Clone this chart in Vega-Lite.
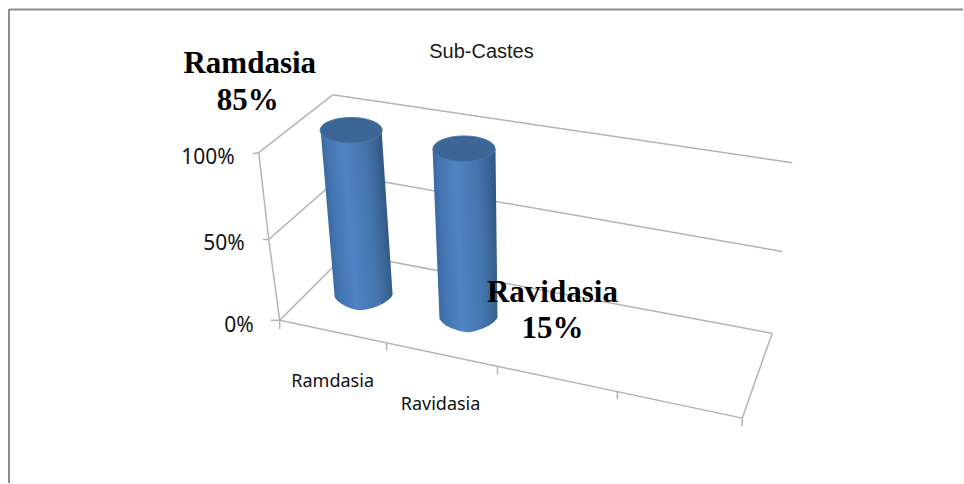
{
  "$schema": "https://vega.github.io/schema/vega-lite/v6.json",
  "width": 964,
  "height": 484,
  "padding": 0,
  "autosize": {"type": "fit", "contains": "padding"},
  "background": "white",
  "config": {"view": {"stroke": null}},
  "datasets": {
    "frame": [
      {"x": 9, "y": 9.5, "x2": 964, "y2": 9.5},
      {"x": 9, "y": 9, "x2": 9, "y2": 484}
    ],
    "wireframe": [
      {"x": 259, "y": 153, "x2": 333, "y2": 95},
      {"x": 333, "y": 95, "x2": 793, "y2": 163},
      {"x": 269, "y": 240, "x2": 343, "y2": 175},
      {"x": 343, "y": 175, "x2": 783, "y2": 252},
      {"x": 280, "y": 321, "x2": 347, "y2": 254},
      {"x": 347, "y": 254, "x2": 773, "y2": 334},
      {"x": 280, "y": 321, "x2": 743, "y2": 419},
      {"x": 743, "y": 419, "x2": 773, "y2": 334},
      {"x": 259, "y": 153, "x2": 269, "y2": 240},
      {"x": 269, "y": 240, "x2": 280, "y2": 321},
      {"x": 253, "y": 154, "x2": 259, "y2": 153},
      {"x": 263, "y": 240, "x2": 269, "y2": 240},
      {"x": 271, "y": 321, "x2": 280, "y2": 321},
      {"x": 280, "y": 321, "x2": 280, "y2": 330},
      {"x": 387, "y": 343, "x2": 387, "y2": 351},
      {"x": 498, "y": 367, "x2": 498, "y2": 375},
      {"x": 618, "y": 392, "x2": 618, "y2": 400},
      {"x": 743, "y": 419, "x2": 743, "y2": 427}
    ],
    "ramdasiaBody": [
      {"y": 131, "left": 321, "right": 382},
      {"y": 295, "left": 334.8, "right": 393},
      {"y": 298, "left": 335.2, "right": 391.5},
      {"y": 301, "left": 337.5, "right": 388},
      {"y": 304, "left": 341, "right": 384},
      {"y": 307, "left": 346, "right": 378},
      {"y": 309, "left": 351, "right": 372},
      {"y": 310.5, "left": 356, "right": 365},
      {"y": 311, "left": 360, "right": 361}
    ],
    "ravidasiaBody": [
      {"y": 149, "left": 433, "right": 496},
      {"y": 318, "left": 439.9, "right": 498},
      {"y": 320, "left": 440.2, "right": 497},
      {"y": 323, "left": 442.5, "right": 494},
      {"y": 326, "left": 446, "right": 490},
      {"y": 329, "left": 452, "right": 484},
      {"y": 331, "left": 458, "right": 478},
      {"y": 332.5, "left": 464, "right": 473},
      {"y": 333, "left": 468, "right": 470}
    ],
    "caps": [
      {"group": "Ramdasia", "x": 351.5, "y": 130.5},
      {"group": "Ravidasia", "x": 464.5, "y": 149}
    ],
    "title": [{"text": "Sub-Castes", "x": 482, "y": 58}],
    "percentTicks": [
      {"text": "100%", "x": 235, "y": 164},
      {"text": "50%", "x": 245, "y": 251},
      {"text": "0%", "x": 254, "y": 333}
    ],
    "categories": [
      {"text": "Ramdasia", "x": 333, "y": 388},
      {"text": "Ravidasia", "x": 441, "y": 411}
    ],
    "shares": [
      {"text": "Ramdasia", "x": 250, "y": 73},
      {"text": "85%", "x": 248, "y": 110},
      {"text": "Ravidasia", "x": 553, "y": 303},
      {"text": "15%", "x": 553, "y": 339}
    ]
  },
  "encoding": {
    "x": {"field": "x", "type": "quantitative", "axis": null, "scale": {"domain": [0, 964], "nice": false, "zero": false}},
    "y": {"field": "y", "type": "quantitative", "axis": null, "scale": {"domain": [484, 0], "nice": false, "zero": false}}
  },
  "layer": [
    {
      "data": {"name": "frame"},
      "mark": {"type": "rule", "color": "#8c8c8c", "strokeWidth": 2},
      "encoding": {"x2": {"field": "x2"}, "y2": {"field": "y2"}}
    },
    {
      "data": {"name": "wireframe"},
      "mark": {"type": "rule", "color": "#b4b4b4", "strokeWidth": 1.5},
      "encoding": {"x2": {"field": "x2"}, "y2": {"field": "y2"}}
    },
    {
      "data": {"name": "ramdasiaBody"},
      "mark": {
        "type": "area",
        "orient": "horizontal",
        "color": {
          "gradient": "linear",
          "x1": 0, "y1": 0, "x2": 0.812, "y2": -0.17,
          "stops": [
            {"offset": 0, "color": "#3a6aa3"},
            {"offset": 0.1, "color": "#4475b2"},
            {"offset": 0.35, "color": "#5084c5"},
            {"offset": 0.7, "color": "#4475ae"},
            {"offset": 0.88, "color": "#3a6494"},
            {"offset": 1, "color": "#2f5582"}
          ]
        }
      },
      "encoding": {
        "x": {"field": "left", "type": "quantitative"},
        "x2": {"field": "right"},
        "y": {"field": "y", "type": "quantitative"}
      }
    },
    {
      "data": {"name": "ravidasiaBody"},
      "mark": {
        "type": "area",
        "orient": "horizontal",
        "color": {
          "gradient": "linear",
          "x1": 0, "y1": 0, "x2": 0.955, "y2": -0.112,
          "stops": [
            {"offset": 0, "color": "#3a6aa3"},
            {"offset": 0.1, "color": "#4475b2"},
            {"offset": 0.35, "color": "#5084c5"},
            {"offset": 0.7, "color": "#4475ae"},
            {"offset": 0.88, "color": "#3a6494"},
            {"offset": 1, "color": "#2f5582"}
          ]
        }
      },
      "encoding": {
        "x": {"field": "left", "type": "quantitative"},
        "x2": {"field": "right"},
        "y": {"field": "y", "type": "quantitative"}
      }
    },
    {
      "data": {"name": "caps"},
      "mark": {
        "type": "point",
        "filled": true,
        "shape": "M-1,0 A1,0.41,0,1,1,1,0 A1,0.41,0,1,1,-1,0 Z",
        "size": 3844,
        "color": "#3c6695",
        "opacity": 1,
        "stroke": "#4a78ae",
        "strokeWidth": 1
      }
    },
    {
      "data": {"name": "title"},
      "mark": {"type": "text", "font": "Liberation Sans", "fontSize": 20, "color": "#1a1a1a", "align": "center", "baseline": "alphabetic"},
      "encoding": {"text": {"field": "text"}}
    },
    {
      "data": {"name": "percentTicks"},
      "mark": {"type": "text", "font": "Noto Sans", "fontSize": 21, "color": "#111111", "align": "right", "baseline": "alphabetic"},
      "encoding": {"text": {"field": "text"}}
    },
    {
      "data": {"name": "categories"},
      "mark": {"type": "text", "font": "Noto Sans", "fontSize": 18, "color": "#111111", "align": "center", "baseline": "alphabetic"},
      "encoding": {"text": {"field": "text"}}
    },
    {
      "data": {"name": "shares"},
      "mark": {"type": "text", "font": "Liberation Serif", "fontWeight": "bold", "fontSize": 31, "color": "#000000", "align": "center", "baseline": "alphabetic"},
      "encoding": {"text": {"field": "text"}}
    }
  ]
}
